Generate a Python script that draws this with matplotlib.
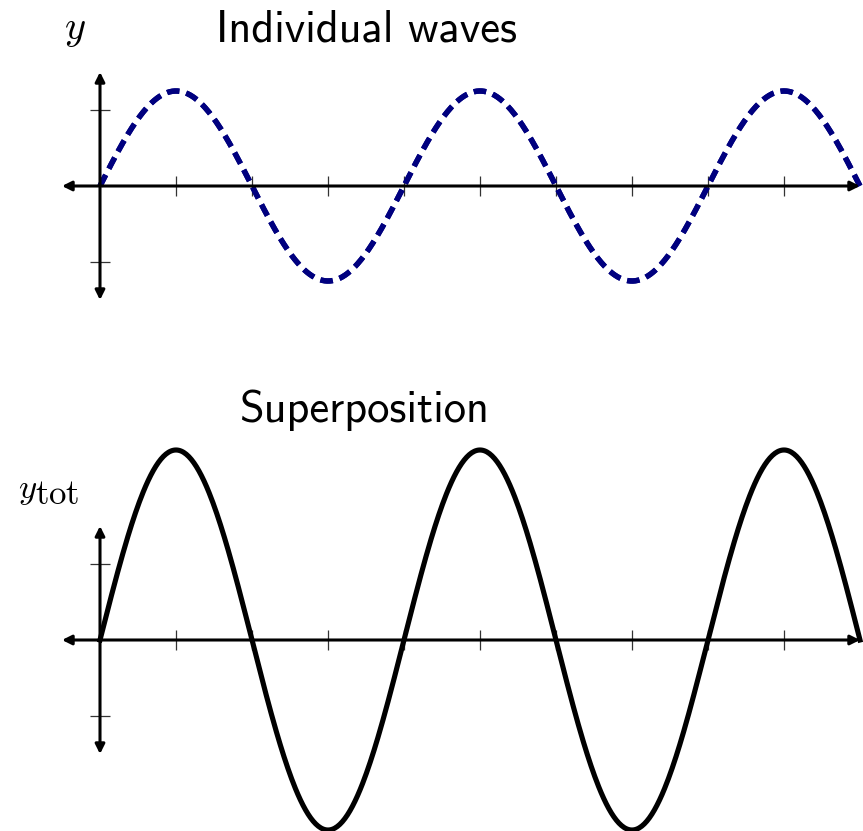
import numpy as np
import matplotlib
matplotlib.use("Agg")
import matplotlib.pyplot as plt
import matplotlib._mathtext as mt

plt.rcParams['mathtext.fontset'] = 'cm'
mt.SHRINK_FACTOR = 1.0   # subscript "tot" is full size in the original

# wave parameters (units = tick spacing)
amplitudes = [1.25, 1.25]      # two identical waves, drawn on top of each other
wavelengths = [4.0, 4.0]
x_start, x_end = 0.0, 10.0
x_ticks = [1, 2, 3, 4, 5, 6, 7, 8, 9]
y_ticks = [-1, 1]
titles = ["Individual waves", "Superposition"]
ylabels = ["$y$", "$y_{\\mathrm{tot}}$"]

W, H = 863, 831
unit = 76.0          # pixels per unit
x0_px = 100.0

fig = plt.figure(figsize=(W / 100, H / 100), dpi=100)

def make_axes(top_px, bot_px, origin_px):
    ax = fig.add_axes([0, 1 - bot_px / H, 1, (bot_px - top_px) / H])
    ax.set_xlim(-x0_px / unit, (W - x0_px) / unit)
    ax.set_ylim(-(bot_px - origin_px) / unit, (origin_px - top_px) / unit)
    ax.axis('off')
    return ax

def draw_axes(ax):
    arrow = dict(arrowstyle='<|-|>', lw=2.2, color='black',
                 mutation_scale=14, shrinkA=0, shrinkB=0)
    ax.annotate('', xy=(10.0, 0), xytext=(-0.5, 0), arrowprops=arrow)
    ax.annotate('', xy=(0, 1.5), xytext=(0, -1.5), arrowprops=arrow)
    t = 10 / unit
    ax.vlines(x_ticks, -t, t, color='#333333', lw=0.9)
    ax.hlines(y_ticks, -t, t, color='#333333', lw=0.9)

x = np.linspace(x_start, x_end, 600)
waves = [a * np.sin(2 * np.pi * x / w) for a, w in zip(amplitudes, wavelengths)]
total = np.sum(waves, axis=0)

# top panel
ax1 = make_axes(0, 400, 186)
draw_axes(ax1)
for yw in waves:
    ax1.plot(x, yw, color='#00007f', lw=3.9, dashes=(2.3, 1.3),
             solid_capstyle='butt', dash_capstyle='butt', clip_on=False)
ax1.text((366 - x0_px) / unit, (186 - 42) / unit, titles[0], fontsize=32,
         family='cmss10', ha='center', va='baseline')
ax1.text((75 - x0_px) / unit, (186 - 39) / unit, ylabels[0], fontsize=29,
         ha='center', va='baseline')

# bottom panel
ax2 = make_axes(400, 831, 640)
draw_axes(ax2)
ax2.plot(x, total, color='black', lw=3.7, clip_on=False)
ax2.text((364 - x0_px) / unit, (640 - 422) / unit, titles[1], fontsize=32,
         family='cmss10', ha='center', va='baseline')
ax2.text((49 - x0_px) / unit, (640 - 499) / unit, ylabels[1], fontsize=25,
         ha='center', va='baseline')

fig.savefig('out.png', dpi=100)
